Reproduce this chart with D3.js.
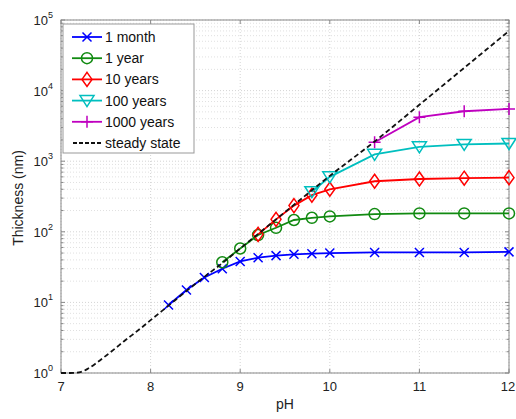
<!DOCTYPE html>
<html><head><meta charset="utf-8">
<script src="https://cdn.jsdelivr.net/npm/d3@7"></script>
<style>body{margin:0;background:#fff}svg{display:block;font-family:"Liberation Sans",Arial,sans-serif}</style>
</head><body><svg id="c" width="516" height="419"></svg>
<script>
const xTicks = [7, 8, 9, 10, 11, 12];
const yExponents = [0, 1, 2, 3, 4, 5];

const phMonth = [8.2, 8.4, 8.6, 8.8, 9.0, 9.2, 9.4, 9.6, 9.8, 10, 10.5, 11, 11.5, 12];
const month1 = [9.2, 15, 22.5, 30, 38, 43, 46, 48, 49, 50, 51, 51, 51, 52];
const phYear1 = [8.8, 9.0, 9.2, 9.4, 9.6, 9.8, 10, 10.5, 11, 11.5, 12];
const year1 = [37, 58, 90, 114, 147, 158, 165, 178, 182, 182, 182];
const phYear10 = [9.2, 9.4, 9.6, 9.8, 10, 10.5, 11, 11.5, 12];
const year10 = [92, 150, 235, 330, 400, 520, 560, 575, 585];
const phYear100 = [9.8, 10, 10.5, 11, 11.5, 12];
const year100 = [370, 600, 1250, 1600, 1730, 1780];
const phYear1000 = [10.5, 11, 11.5, 12];
const year1000 = [1850, 4200, 5100, 5500];
const phSteady = [7, 7.1, 7.2, 7.3, 7.4, 7.5, 7.6, 7.7, 7.8, 7.9, 8, 8.2, 8.4, 8.6, 8.8, 9, 9.5, 10, 10.5, 11, 11.5, 12];
const steady = [1, 1, 1.02, 1.15, 1.4, 1.75, 2.2, 2.8, 3.5, 4.4, 5.6, 9, 14.5, 23, 36, 58, 190, 620, 1900, 6300, 21000, 70000];

const seriesNames = ["1 month", "1 year", "10 years", "100 years", "1000 years"];
const seriesColors = ["#0000ff", "#118a11", "#ff0000", "#00bfbf", "#bf00bf"];
const seriesMarkers = ["x", "circle", "diamond", "tri", "plus"];
const seriesX = [phMonth, phYear1, phYear10, phYear100, phYear1000];
const seriesY = [month1, year1, year10, year100, year1000];

const svg = d3.select("#c");
const L = 61, R = 509, T = 20, B = 373;
const x = d3.scaleLinear().domain([7, 12]).range([L, R]);
const y = d3.scaleLog().domain([1, 1e5]).range([B, T]);

// grid
const g = svg.append("g");
const minorY = [];
for (let e = 0; e < 5; e++) for (let k = 2; k <= 9; k++) minorY.push(k * Math.pow(10, e));
g.selectAll(".my").data(minorY).enter().append("line")
  .attr("x1", L).attr("x2", R).attr("y1", d => y(d)).attr("y2", d => y(d))
  .attr("stroke", "#e0e0e0").attr("stroke-width", 1).attr("stroke-dasharray", "1,2");
g.selectAll(".My").data(yExponents).enter().append("line")
  .attr("x1", L).attr("x2", R).attr("y1", d => y(Math.pow(10, d))).attr("y2", d => y(Math.pow(10, d)))
  .attr("stroke", "#d4d4d4").attr("stroke-width", 1).attr("stroke-dasharray", "1,2");
g.selectAll(".Mx").data(xTicks).enter().append("line")
  .attr("x1", d => x(d)).attr("x2", d => x(d)).attr("y1", T).attr("y2", B)
  .attr("stroke", "#d4d4d4").attr("stroke-width", 1).attr("stroke-dasharray", "1,2");

// frame
svg.append("rect").attr("x", L).attr("y", T).attr("width", R - L).attr("height", B - T)
  .attr("fill", "none").attr("stroke", "#888").attr("stroke-width", 1);

// ticks
const tk = svg.append("g").attr("stroke", "#888");
xTicks.forEach(t => {
  tk.append("line").attr("x1", x(t)).attr("x2", x(t)).attr("y1", B).attr("y2", B - 4);
  tk.append("line").attr("x1", x(t)).attr("x2", x(t)).attr("y1", T).attr("y2", T + 4);
});
minorY.forEach(t => {
  tk.append("line").attr("x1", L).attr("x2", L + 2.5).attr("y1", y(t)).attr("y2", y(t));
  tk.append("line").attr("x1", R).attr("x2", R - 2.5).attr("y1", y(t)).attr("y2", y(t));
});
yExponents.forEach(e => {
  tk.append("line").attr("x1", L).attr("x2", L + 4).attr("y1", y(Math.pow(10, e))).attr("y2", y(Math.pow(10, e)));
  tk.append("line").attr("x1", R).attr("x2", R - 4).attr("y1", y(Math.pow(10, e))).attr("y2", y(Math.pow(10, e)));
});

// tick labels
svg.selectAll(".xl").data(xTicks).enter().append("text")
  .attr("x", d => x(d) - (d === 12 ? 1 : 0)).attr("y", B + 18).attr("text-anchor", "middle")
  .attr("font-size", 13).attr("fill", "#222").text(d => d);
yExponents.forEach(e => {
  const t = svg.append("text").attr("x", L - 8).attr("y", y(Math.pow(10, e)) + 5)
    .attr("text-anchor", "end").attr("font-size", 13).attr("fill", "#222");
  t.append("tspan").text("10");
  t.append("tspan").attr("dy", -7).attr("font-size", 9).text(e);
});
svg.append("text").attr("x", 285).attr("y", 409).attr("text-anchor", "middle")
  .attr("font-size", 14).attr("fill", "#222").text("pH");
svg.append("text").attr("transform", "translate(23,198) rotate(-90)").attr("text-anchor", "middle")
  .attr("font-size", 14).attr("fill", "#222").text("Thickness (nm)");

// markers
function marker(sel, type, cx, cy, color) {
  const s = 4.5;
  if (type === "x") {
    sel.append("path").attr("d", `M${cx-s},${cy-s}L${cx+s},${cy+s}M${cx-s},${cy+s}L${cx+s},${cy-s}`)
      .attr("stroke", color).attr("stroke-width", 1.5).attr("fill", "none");
  } else if (type === "plus") {
    sel.append("path").attr("d", `M${cx-6},${cy}L${cx+6},${cy}M${cx},${cy-6}L${cx},${cy+6}`)
      .attr("stroke", color).attr("stroke-width", 1.5).attr("fill", "none");
  } else if (type === "circle") {
    sel.append("circle").attr("cx", cx).attr("cy", cy).attr("r", 5.5)
      .attr("stroke", color).attr("stroke-width", 1.5).attr("fill", "none");
  } else if (type === "diamond") {
    sel.append("path").attr("d", `M${cx},${cy-7}L${cx+5},${cy}L${cx},${cy+7}L${cx-5},${cy}Z`)
      .attr("stroke", color).attr("stroke-width", 1.5).attr("fill", "none");
  } else if (type === "tri") {
    sel.append("path").attr("d", `M${cx-7},${cy-5}L${cx+7},${cy-5}L${cx},${cy+6}Z`)
      .attr("stroke", color).attr("stroke-width", 1.5).attr("fill", "none");
  }
}

const line = d3.line().x(d => x(d[0])).y(d => y(d[1]));
const plot = svg.append("g");
seriesNames.forEach((n, i) => {
  const pts = seriesX[i].map((p, j) => [p, seriesY[i][j]]);
  plot.append("path").datum(pts).attr("d", line).attr("fill", "none")
    .attr("stroke", seriesColors[i]).attr("stroke-width", 1.8);
  pts.forEach(p => marker(plot, seriesMarkers[i], x(p[0]), y(p[1]), seriesColors[i]));
});
const spts = phSteady.map((p, j) => [p, steady[j]]);
plot.append("path").datum(spts).attr("d", d3.line().x(d => x(d[0])).y(d => y(d[1])).curve(d3.curveMonotoneX))
  .attr("fill", "none").attr("stroke", "#111").attr("stroke-width", 1.8).attr("stroke-dasharray", "5,3");

// legend
const lg = svg.append("g");
lg.append("rect").attr("x", 63).attr("y", 24).attr("width", 131).attr("height", 129)
  .attr("fill", "#fff").attr("stroke", "#999").attr("stroke-width", 1);
const legNames = seriesNames.concat(["steady state"]);
legNames.forEach((n, i) => {
  const ly = 37 + i * 21.2;
  if (i < 5) {
    lg.append("line").attr("x1", 72).attr("x2", 102).attr("y1", ly).attr("y2", ly)
      .attr("stroke", seriesColors[i]).attr("stroke-width", 1.8);
    marker(lg, seriesMarkers[i], 87, ly, seriesColors[i]);
  } else {
    lg.append("line").attr("x1", 73).attr("x2", 102).attr("y1", ly).attr("y2", ly)
      .attr("stroke", "#111").attr("stroke-width", 1.8).attr("stroke-dasharray", "4,2");
  }
  lg.append("text").attr("x", 105).attr("y", ly + 5).attr("font-size", 14).attr("fill", "#111").text(n);
});
</script></body></html>
